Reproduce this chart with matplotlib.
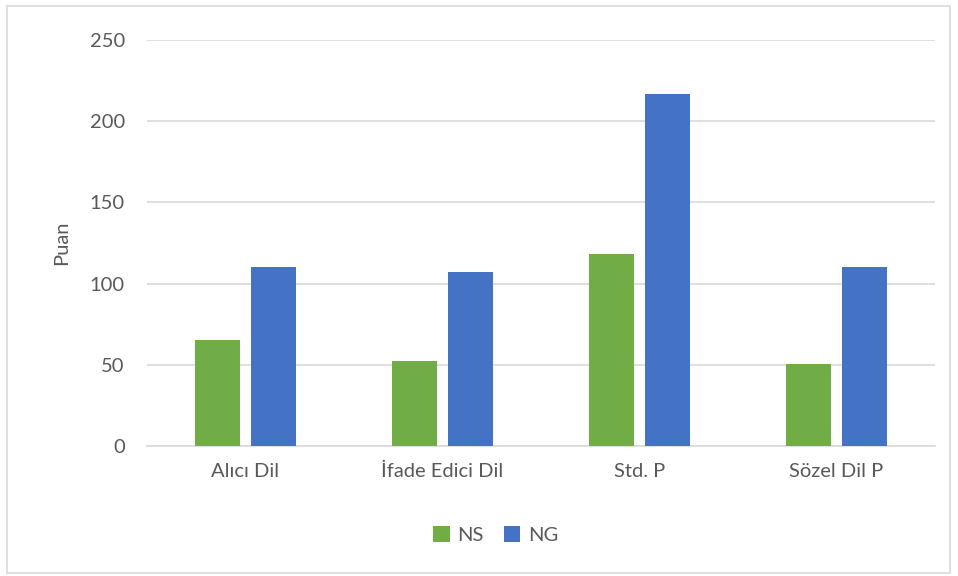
import matplotlib
matplotlib.use("Agg")
import matplotlib.pyplot as plt
import numpy as np
from matplotlib.patches import Rectangle

categories = ["Alıcı Dil", "İfade Edici Dil", "Std. P", "Sözel Dil P"]
ns_values = [65, 52.5, 118, 50.5]
ng_values = [110, 107, 217, 110]
series_names = ["NS", "NG"]
y_ticks = [0, 50, 100, 150, 200, 250]

green = "#70AD47"
blue = "#4472C4"
text_color = "#595959"

plt.rcParams["font.family"] = ["Lato", "DejaVu Sans"]

fig = plt.figure(figsize=(9.58, 5.76), dpi=100)
ax = fig.add_axes([147 / 958, 1 - 446 / 576, (935 - 147) / 958, (446 - 40) / 576])

x = np.arange(len(categories))
bw = 0.228
gap = 0.056
off = (bw + gap) / 2
ax.bar(x - off, ns_values, bw, color=green, label=series_names[0], zorder=3)
ax.bar(x + off, ng_values, bw, color=blue, label=series_names[1], zorder=3)

ax.set_xlim(-0.5, len(categories) - 0.5)
ax.set_ylim(0, 250)
ax.set_yticks(y_ticks)
ax.set_xticks(x)
ax.set_xticklabels(categories)
ax.grid(axis="y", color="#D9D9D9", linewidth=1.2, zorder=0)
for s in ["top", "right", "left"]:
    ax.spines[s].set_visible(False)
ax.spines["bottom"].set_color("#D9D9D9")
ax.spines["bottom"].set_linewidth(1.2)
ax.tick_params(axis="both", length=0, labelsize=14.5, colors=text_color)
ax.tick_params(axis="y", pad=16)
ax.tick_params(axis="x", pad=12)
ax.set_ylabel("Puan", fontsize=14.5, color=text_color, labelpad=14)

leg = fig.legend(loc="center", bbox_to_anchor=(496 / 958, 1 - 535 / 576), ncol=2,
                 frameon=False, fontsize=14.5, handlelength=0.8, handleheight=0.8,
                 handletextpad=0.4, columnspacing=1.0, labelcolor=text_color)

# thin frame around the whole chart area
fig.patches.append(Rectangle((7 / 958, 1 - 573 / 576), (950 - 7) / 958, (573 - 6) / 576,
                             transform=fig.transFigure, fill=False,
                             edgecolor="#D9D9D9", linewidth=1.2))

fig.savefig("out.png", dpi=100, facecolor="white")
